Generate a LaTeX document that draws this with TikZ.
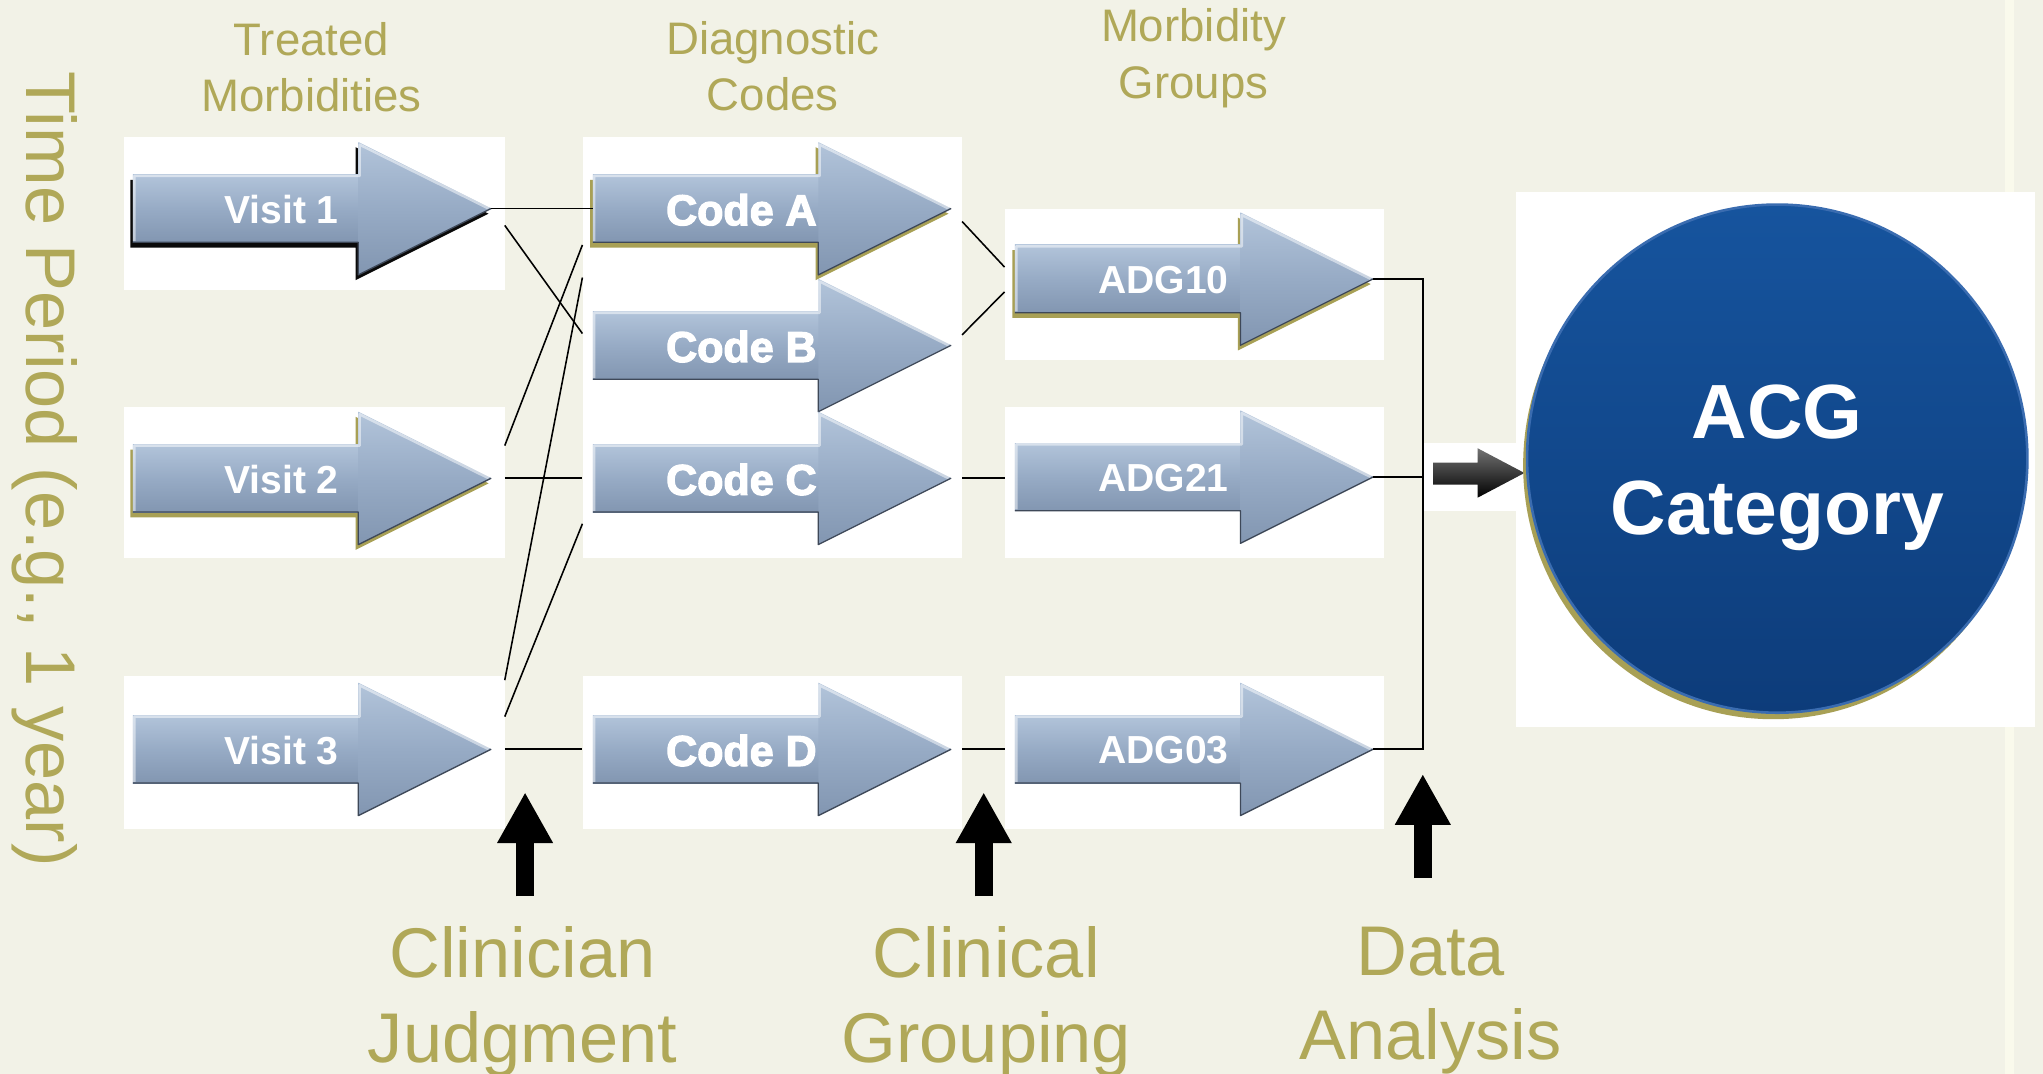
\documentclass[tikz,border=0pt]{standalone}
\usepackage{fontspec}
\setmainfont{Liberation Sans}
\newfontfamily\heavyfam{Liberation Sans}[BoldFeatures={FakeBold=3}]
\usetikzlibrary{shapes.geometric,arrows.meta,calc}
\definecolor{bgCream}{RGB}{242,242,231}
\definecolor{stripeC}{RGB}{250,250,236}
\definecolor{oliveT}{RGB}{176,168,88}
\definecolor{shOlive}{RGB}{168,160,85}
\definecolor{shBlack}{RGB}{10,10,10}
\definecolor{arTop}{RGB}{178,196,218}
\definecolor{arMid}{RGB}{151,171,197}
\definecolor{arBot}{RGB}{130,150,177}
\definecolor{arEdge}{RGB}{62,72,88}
\definecolor{acgTop}{RGB}{22,84,158}
\definecolor{acgBot}{RGB}{13,60,122}
\definecolor{acgRim}{RGB}{58,108,176}
\tikzset{
  wbox/.style={fill=white, draw=none, inner sep=0, anchor=north west},
  conn/.style={draw=black, line width=1.2pt},
  artext/.style={text=white, inner sep=0, font=\fontsize{30}{36}\selectfont\bfseries},
  titletext/.style={text=oliveT, inner sep=0, align=center, anchor=north, font=\fontsize{35}{43}\selectfont},
  bigtext/.style={text=oliveT, inner sep=0, align=center, anchor=north, font=\fontsize{54}{65}\selectfont},
  uparrow/.style={draw=black, line width=14pt, -{Triangle[width=40pt,length=39pt]}},
}
\newcommand{\codefont}{\heavyfam\bfseries\fontsize{33}{36}\selectfont}
\newcommand{\flowarrow}[5]{%
\begin{scope}[shift={(#3,#4)}]
\if\relax\detokenize{#1}\relax\else
\fill[#1] (-2,-22) -- (171,-22) -- (171,-47) -- (273,4) -- (171,55) -- (171,30) -- (-2,30) -- cycle;
\fi
\shade[top color=arTop, bottom color=arBot, middle color=arMid] (0,-26) rectangle (175,26);
\shade[top color=arTop, bottom color=arBot, middle color=arMid] (173,-51) -- (275,0) -- (173,51) -- cycle;
\draw[white, opacity=.5, line width=2pt, line join=round] (1,25) -- (1,-25) -- (174,-25) -- (174,-49) -- (273,0);
\draw[arEdge, line width=1pt, line join=round] (0,26) -- (173,26) -- (173,51) -- (275,0);
\coordinate (#2tip) at (275,0);
\coordinate (#2tail) at (0,0);
\node[artext] (#2) at (114,1) {#5};
\end{scope}}
\begin{document}
\begin{tikzpicture}[x=1pt,y=-1pt]
\useasboundingbox (0,0) rectangle (1568,824);
\fill[bgCream] (0,0) rectangle (1568,824);
\fill[stripeC] (1539,0) rectangle (1546,824);
% white boxes
\node[wbox, minimum width=292pt, minimum height=117pt] (v1box) at (95,105) {};
\node[wbox, minimum width=292pt, minimum height=116pt] (v2box) at (95,312) {};
\node[wbox, minimum width=292pt, minimum height=117pt] (v3box) at (95,519) {};
\node[wbox, minimum width=291pt, minimum height=323pt] (codebox) at (447,105) {};
\node[wbox, minimum width=291pt, minimum height=117pt] (codedbox) at (447,519) {};
\node[wbox, minimum width=291pt, minimum height=116pt] (adg10box) at (771,160) {};
\node[wbox, minimum width=291pt, minimum height=116pt] (adg21box) at (771,312) {};
\node[wbox, minimum width=291pt, minimum height=117pt] (adg03box) at (771,519) {};
\node[wbox, minimum width=85pt, minimum height=52pt] (smallbox) at (1093,340) {};
\node[wbox, minimum width=399pt, minimum height=411pt] (acgbox) at (1163,147) {};
% block arrows
\flowarrow{shBlack}{v1}{102}{160}{Visit 1}
\flowarrow{shOlive}{v2}{102}{367}{Visit 2}
\flowarrow{}{v3}{102}{575}{Visit 3}
\flowarrow{shOlive}{ca}{455}{160}{\codefont Code A}
\flowarrow{}{cb}{455}{265}{\codefont Code B}
\flowarrow{}{cc}{455}{367}{\codefont Code C}
\flowarrow{}{cd}{455}{575}{\codefont Code D}
\flowarrow{shOlive}{a10}{779}{214}{ADG10}
\flowarrow{}{a21}{779}{366}{ADG21}
\flowarrow{}{a03}{779}{575}{ADG03}
% connectors
\draw[conn] (v1tip) -- (catail);
\draw[conn] (v1box.east |- 0,173) -- (codebox.west |- 0,256);
\draw[conn] (v2box.east |- 0,342) -- (codebox.west |- 0,188);
\draw[conn] (v2box.east |- v2tip) -- (codebox.west |- v2tip);
\draw[conn] (v3box.east |- 0,522) -- (codebox.west |- 0,213);
\draw[conn] (v3box.east |- 0,550) -- (codebox.west |- 0,402);
\draw[conn] (v3box.east |- v3tip) -- (codedbox.west |- v3tip);
\draw[conn] (codebox.east |- 0,170) -- (adg10box.west |- 0,205);
\draw[conn] (codebox.east |- 0,257) -- (adg10box.west |- 0,224);
\draw[conn] (codebox.east |- cctip) -- (adg21box.west |- cctip);
\draw[conn] (codedbox.east |- cdtip) -- (adg03box.west |- cdtip);
\coordinate (busT) at (1092,214);
\coordinate (busB) at (1092,575);
\draw[conn, line join=miter] (a10tip) -- (busT) -- (busB) -- (a03tip);
\draw[conn] (a21tip) -- (busT |- a21tip);
% small black arrow
\shade[top color=black!55, middle color=black, bottom color=black] (1100,355) -- (1134,355) -- (1134,344) -- (1170,363) -- (1134,382) -- (1134,372) -- (1100,372) -- cycle;
% ACG circle
\fill[shOlive] (1361,357) ellipse [x radius=192pt, y radius=195pt];
\node[ellipse, minimum width=384pt, minimum height=390pt, inner sep=0, top color=acgTop, bottom color=acgBot, draw=acgRim, line width=2pt] (acg) at (1364,352) {};
\node[text=white, align=center, inner sep=0, font=\fontsize{59}{74}\selectfont\bfseries] (acglabel) at (1364,359) {ACG\\Category};
% up arrows
\coordinate (cj1) at (403,688); \coordinate (cj2) at (403,608);
\coordinate (cg1) at (755,688); \coordinate (cg2) at (755,608);
\coordinate (da1) at (1092,674); \coordinate (da2) at (1092,594);
\draw[uparrow] (cj1) -- (cj2);
\draw[uparrow] (cg1) -- (cg2);
\draw[uparrow] (da1) -- (da2);
% texts
\node[titletext] (t1) at (239,17) {Treated\\Morbidities};
\node[titletext] (t2) at (593,16) {Diagnostic\\Codes};
\node[titletext, font=\fontsize{35}{44}\selectfont] (t3) at (916,6) {Morbidity\\Groups};
\node[bigtext] (clin) at (401,711) {Clinician\\Judgment};
\node[bigtext] (grp) at (757,711) {Clinical\\Grouping};
\node[bigtext] (data) at (1098,711) {Data\\Analysis};
\node[text=oliveT, inner sep=0, rotate=-90, anchor=base, font=\fontsize{54}{65}\selectfont] (tp) at (20,360) {Time Period (e.g., 1 year)};
\end{tikzpicture}
\end{document}
